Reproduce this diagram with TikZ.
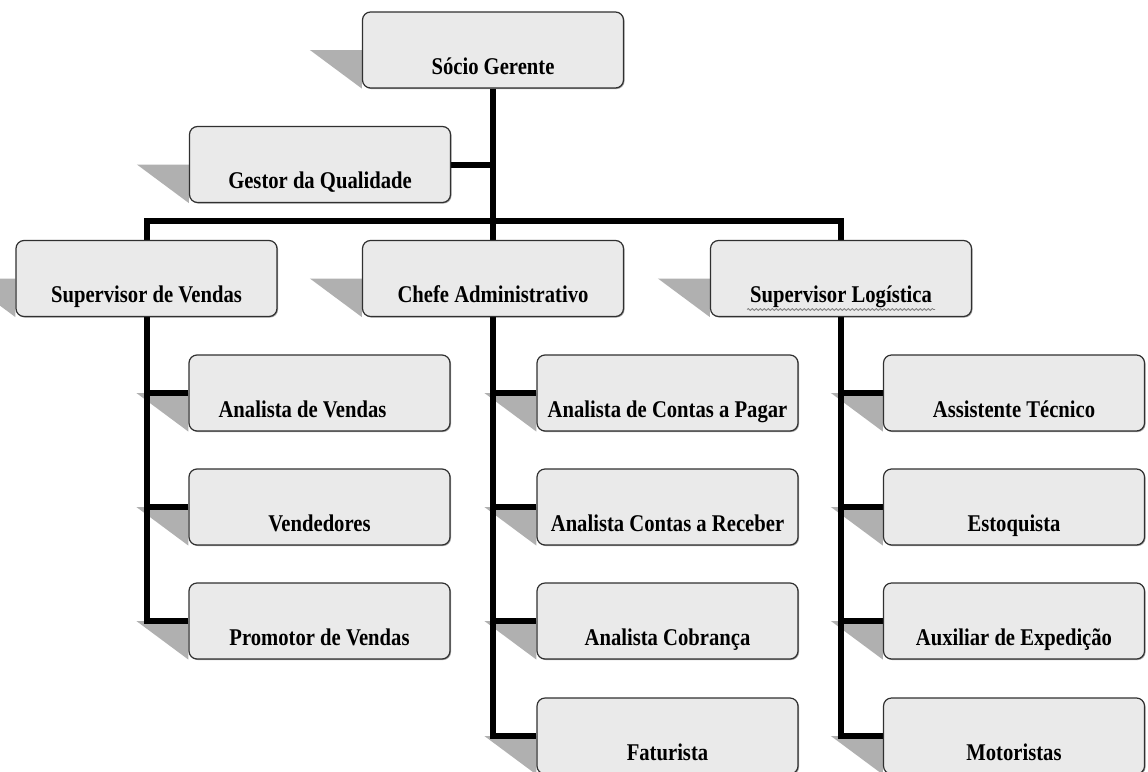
\documentclass[tikz,border=0pt]{standalone}
\usepackage{fontspec}
\newfontfamily\boxfont[UprightFont={* Bold}, FakeStretch=0.86]{Liberation Serif}
\usetikzlibrary{calc,backgrounds,decorations.pathmorphing,shadows}
\definecolor{boxfill}{HTML}{EAEAEA}
\definecolor{boxline}{HTML}{303030}
\definecolor{shadowgray}{HTML}{B0B0B0}
\definecolor{wavegray}{HTML}{808080}
\begin{document}
\begin{tikzpicture}[x=0.75pt,y=-0.75pt,
  orgbox/.style={draw=boxline, line width=0.9pt, fill=boxfill, rounded corners=6pt,
    minimum width=195.75pt, minimum height=57pt, text height=46.5pt, text depth=10.5pt,
    inner ysep=0pt, inner xsep=2pt,
    drop shadow={shadow xshift=0.8pt, shadow yshift=-0.8pt, opacity=0.35, fill=black},
    font=\boxfont\fontsize{18pt}{20pt}\selectfont},
  conn/.style={draw=black, line width=4.5pt},
  sidesh/.style={fill=shadowgray, draw=none}]
\useasboundingbox (0,0) rectangle (1148,771);

% top levels
\node[orgbox] (soc) at (493,50) {Sócio Gerente};
\node[orgbox] (gest) at (320,164.5) {Gestor da Qualidade};
\node[orgbox] (sv) at (146.5,278.5) {Supervisor de Vendas};
\node[orgbox] (ca) at (493,278.5) {Chefe Administrativo};
\node[orgbox] (sl) at (841,278.5) {Supervisor Logística};

% vendas column
\node[orgbox] (av) at (319.5,393) {\hspace*{-25.5pt}Analista de Vendas};
\node[orgbox] (ve) at (319.5,507) {Vendedores};
\node[orgbox] (pv) at (319.5,621) {Promotor de Vendas};

% administrativo column
\node[orgbox] (acp) at (667.5,393) {Analista de Contas a Pagar};
\node[orgbox] (acr) at (667.5,507) {Analista Contas a Receber};
\node[orgbox] (acb) at (667.5,621) {Analista Cobrança};
\node[orgbox] (fat) at (667.5,736) {Faturista};

% logistica column
\node[orgbox] (at) at (1014,393) {Assistente Técnico};
\node[orgbox] (es) at (1014,507) {Estoquista};
\node[orgbox] (ae) at (1014,621) {Auxiliar de Expedição};
\node[orgbox] (mo) at (1014,736) {Motoristas};

% spell-check squiggle
\draw[wavegray, line width=0.6pt, decorate, decoration={snake, amplitude=0.7pt, segment length=3pt}]
  ($(sl.center)+(-94,31)$) -- ($(sl.center)+(94,31)$);

\coordinate (bar) at (493,221);

\begin{pgfonlayer}{background}
  \fill[white] (0,0) rectangle (1148,771);
  \foreach \n in {soc,gest,sv,ca,sl,av,ve,pv,acp,acr,acb,fat,at,es,ae,mo}{
    \fill[sidesh] ($(\n.west)+(-52,0)$) -- (\n.west) -- (\n.south west) -- cycle;
  }
  \draw[conn] (soc.south) -- (ca.north);
  \draw[conn] (gest.east) -- (gest.east -| soc.south);
  \draw[conn] (sv.north) |- (bar) -| (sl.north);
  \draw[conn] (sv.south) |- (av.west);
  \draw[conn] (sv.south) |- (ve.west);
  \draw[conn] (sv.south) |- (pv.west);
  \draw[conn] (ca.south) |- (acp.west);
  \draw[conn] (ca.south) |- (acr.west);
  \draw[conn] (ca.south) |- (acb.west);
  \draw[conn] (ca.south) |- (fat.west);
  \draw[conn] (sl.south) |- (at.west);
  \draw[conn] (sl.south) |- (es.west);
  \draw[conn] (sl.south) |- (ae.west);
  \draw[conn] (sl.south) |- (mo.west);
\end{pgfonlayer}
\end{tikzpicture}
\end{document}
